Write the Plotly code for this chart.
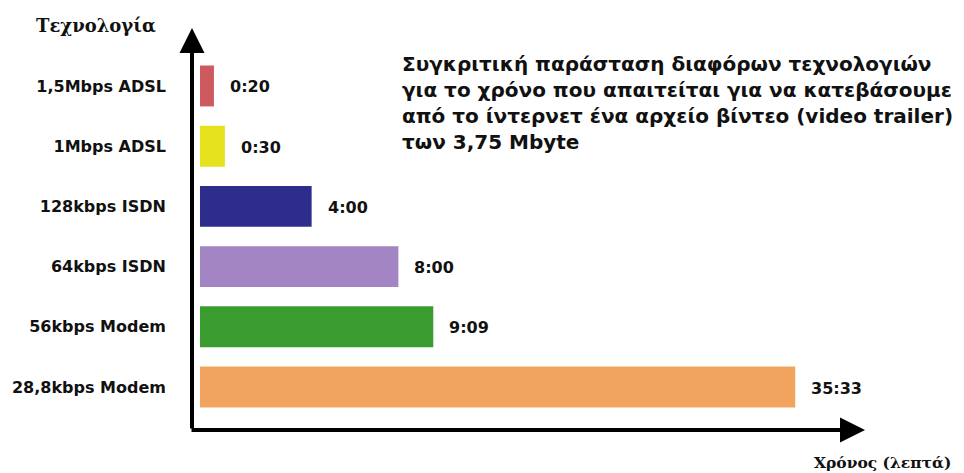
import plotly.graph_objects as go

# Data
categories = ["1,5Mbps ADSL", "1Mbps ADSL", "128kbps ISDN", "64kbps ISDN", "56kbps Modem", "28,8kbps Modem"]
time_labels = ["0:20", "0:30", "4:00", "8:00", "9:09", "35:33"]
# bar lengths as drawn in the original illustration (relative units)
bar_lengths = [14, 25, 112, 199, 234, 597]
colors = ["#cd5a5e", "#e6e21e", "#2d2e8c", "#a285c2", "#3a9c2e", "#f1a45e"]

title_lines = [
    "Συγκριτική παράσταση διαφόρων τεχνολογιών",
    "για το χρόνο που απαιτείται για να κατεβάσουμε",
    "από το ίντερνετ ένα αρχείο βίντεο (video trailer)",
    "των 3,75 Mbyte",
]

W, H = 964, 473
L, R, T, B = 190, 99, 28, 43
pw, ph = W - L - R, H - T - B

fig = go.Figure()
fig.add_trace(go.Bar(
    x=bar_lengths, y=categories, orientation="h",
    marker=dict(color=colors, line=dict(width=0)),
    width=0.68, hoverinfo="skip",
))

ann = []
for c, v, t in zip(categories, bar_lengths, time_labels):
    ann.append(dict(x=v, y=c, xref="x", yref="y", text="<b>" + t + "</b>", showarrow=False,
                    xanchor="left", yanchor="middle", xshift=14, yshift=-1,
                    font=dict(family="DejaVu Sans", size=16, color="#111")))

# axis arrows
ann.append(dict(x=0, y=1, xref="paper", yref="paper", ax=0, ay=ph, axref="pixel", ayref="pixel",
                showarrow=True, arrowhead=2, arrowsize=1.25, arrowwidth=4, arrowcolor="#000", text=""))
ann.append(dict(x=1, y=0, xref="paper", yref="paper", ax=-pw, ay=0, axref="pixel", ayref="pixel",
                showarrow=True, arrowhead=2, arrowsize=1.25, arrowwidth=4, arrowcolor="#000", text=""))

# titles
ann.append(dict(x=(94 - L) / pw, y=(H - B - 25) / ph, xref="paper", yref="paper",
                text="<b>Τεχνολογία</b>", showarrow=False, xanchor="center", yanchor="middle",
                font=dict(family="DejaVu Serif", size=18, color="#111")))
ann.append(dict(x=(883 - L) / pw, y=(H - B - 463) / ph, xref="paper", yref="paper",
                text="<b>Χρόνος (λεπτά)</b>", showarrow=False, xanchor="center", yanchor="middle",
                font=dict(family="DejaVu Serif", size=15.5, color="#111")))
ann.append(dict(x=(399 - L) / pw, y=(H - B - 50) / ph, xref="paper", yref="paper",
                text="<br>".join("<b>" + s + "</b>" for s in title_lines), showarrow=False,
                xanchor="left", yanchor="top", align="left",
                font=dict(family="DejaVu Sans", size=20, color="#111")))

fig.update_layout(
    width=W, height=H, margin=dict(l=L, r=R, t=T, b=B),
    paper_bgcolor="white", plot_bgcolor="white",
    showlegend=False, annotations=ann,
    xaxis=dict(range=[-8, pw - 8], visible=False, fixedrange=True),
    yaxis=dict(range=[5.714, -0.963], showgrid=False, zeroline=False, showline=False,
               ticks="", ticklabelstandoff=25, fixedrange=True,
               tickfont=dict(family="DejaVu Sans", size=16, color="#111", weight="bold")),
)

fig.write_html("out.html", config={"displayModeBar": False})
